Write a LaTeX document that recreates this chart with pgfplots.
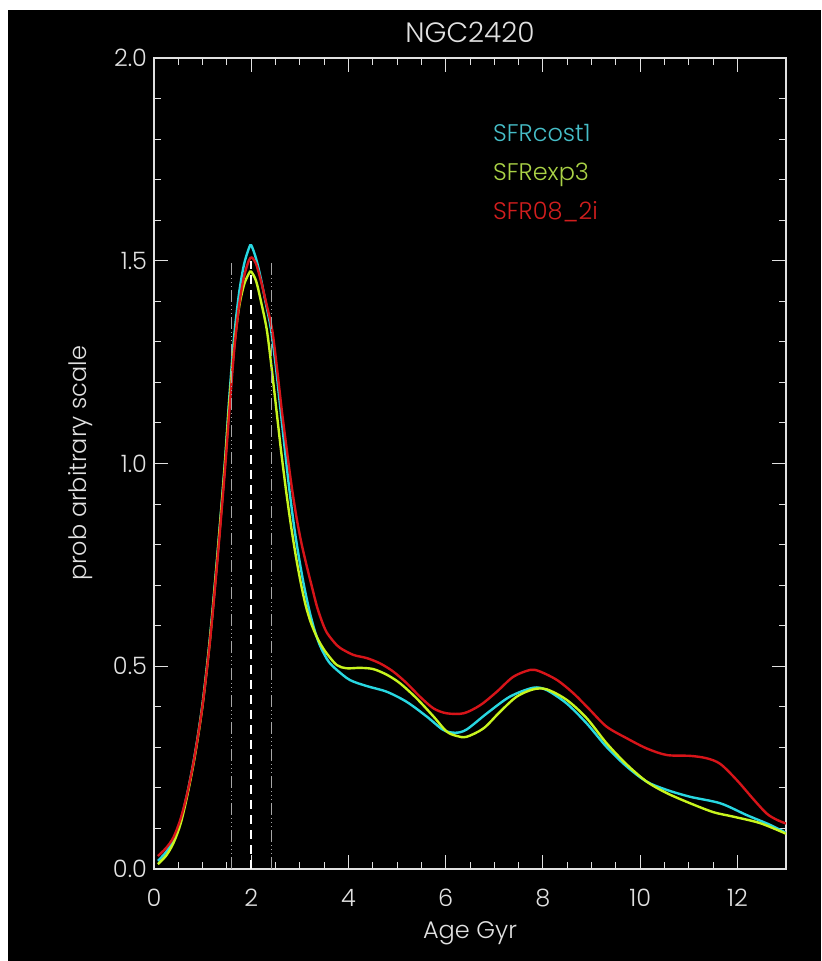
\documentclass[border=0pt]{standalone}
\usepackage{fontspec}
\setmainfont{Poppins Light}
\usepackage{pgfplots}
\usepackage{pgfplotstable}
\pgfplotsset{compat=1.18}

\definecolor{cyancurve}{RGB}{40,215,225}
\definecolor{yelcurve}{RGB}{200,245,30}
\definecolor{redcurve}{RGB}{215,20,25}
\definecolor{cyantext}{RGB}{70,190,200}
\definecolor{yeltext}{RGB}{170,210,70}
\definecolor{redtext}{RGB}{210,30,30}
\definecolor{labelgrey}{RGB}{225,225,225}

% SFRcost1
\pgfplotstableread{
x y
0.08 0.020
0.25 0.042
0.40 0.072
0.55 0.120
0.70 0.195
0.85 0.290
1.00 0.410
1.15 0.570
1.30 0.770
1.45 0.990
1.55 1.165
1.65 1.315
1.75 1.420
1.85 1.490
1.95 1.530
2.00 1.538
2.10 1.505
2.20 1.455
2.30 1.395
2.40 1.335
2.50 1.245
2.60 1.135
2.70 1.025
2.80 0.920
2.90 0.830
3.00 0.755
3.10 0.690
3.20 0.635
3.30 0.590
3.40 0.555
3.50 0.530
3.60 0.510
3.76 0.491
4.03 0.466
4.38 0.451
4.79 0.437
5.20 0.412
5.61 0.376
5.95 0.343
6.20 0.336
6.43 0.344
6.85 0.384
7.32 0.425
7.80 0.447
8.08 0.441
8.49 0.408
8.90 0.359
9.31 0.301
9.73 0.252
10.14 0.215
10.55 0.195
11.03 0.178
11.65 0.162
12.19 0.133
12.67 0.109
13.00 0.089
}\costone

% SFRexp3
\pgfplotstableread{
x y
0.08 0.012
0.25 0.033
0.40 0.064
0.55 0.113
0.70 0.190
0.85 0.285
1.00 0.405
1.15 0.565
1.30 0.765
1.45 0.985
1.55 1.150
1.65 1.290
1.75 1.385
1.85 1.440
1.95 1.468
2.00 1.473
2.10 1.450
2.20 1.400
2.32 1.330
2.42 1.235
2.52 1.130
2.62 1.025
2.72 0.930
2.82 0.845
2.92 0.770
3.02 0.705
3.12 0.650
3.22 0.610
3.32 0.580
3.42 0.556
3.55 0.532
3.76 0.503
3.96 0.495
4.24 0.496
4.51 0.493
4.79 0.479
5.06 0.458
5.40 0.421
5.75 0.376
6.02 0.339
6.23 0.328
6.43 0.326
6.78 0.347
7.12 0.388
7.46 0.425
7.80 0.443
8.08 0.443
8.49 0.417
8.90 0.372
9.31 0.310
9.73 0.257
10.14 0.215
10.55 0.187
11.03 0.162
11.51 0.140
11.92 0.129
12.47 0.113
13.00 0.087
}\expthree

% SFR08_2i
\pgfplotstableread{
x y
0.08 0.032
0.25 0.052
0.40 0.078
0.55 0.125
0.70 0.195
0.85 0.288
1.00 0.405
1.15 0.560
1.30 0.755
1.45 0.970
1.55 1.130
1.65 1.280
1.75 1.390
1.85 1.460
1.95 1.500
2.01 1.508
2.10 1.492
2.20 1.450
2.30 1.400
2.43 1.330
2.53 1.235
2.63 1.130
2.73 1.035
2.83 0.945
2.93 0.868
3.03 0.805
3.14 0.748
3.25 0.695
3.35 0.648
3.45 0.612
3.55 0.584
3.70 0.560
3.83 0.545
4.10 0.528
4.38 0.520
4.65 0.507
4.92 0.487
5.20 0.458
5.47 0.425
5.75 0.396
6.02 0.384
6.37 0.384
6.71 0.404
7.05 0.437
7.39 0.474
7.74 0.491
7.94 0.487
8.29 0.466
8.63 0.433
8.97 0.392
9.31 0.351
9.73 0.322
10.14 0.297
10.55 0.281
11.03 0.279
11.37 0.273
11.65 0.259
11.99 0.219
12.33 0.172
12.60 0.137
12.80 0.122
13.00 0.112
}\sfreight

\begin{document}
\begin{tikzpicture}
% page: 821x961 px at 0.5pt per px
\fill[black] (0pt,0pt) rectangle (410.5pt,480.5pt);
\fill[white] (0pt,475.5pt) rectangle (410.5pt,480.5pt);
\fill[white] (0pt,0pt) rectangle (4pt,480.5pt);
\begin{axis}[
    at={(77pt,46pt)}, anchor=south west,
    scale only axis, width=316pt, height=405.5pt,
    xmin=0, xmax=13, ymin=0, ymax=2,
    xtick={0,2,4,6,8,10,12}, minor x tick num=3,
    ytick={0,0.5,1,1.5,2}, minor y tick num=4,
    major tick length=7pt, minor tick length=3.5pt,
    every tick/.style={labelgrey, line width=0.5pt},
    axis line style={labelgrey, line width=0.8pt},
    /pgf/number format/assume math mode=true,
    yticklabel style={/pgf/number format/.cd, fixed, fixed zerofill, precision=1},
    tick label style={font=\fontsize{12}{14}\selectfont, text=labelgrey},
    xticklabel style={yshift=-6.5pt},
    label style={font=\fontsize{12}{14}\selectfont, text=labelgrey},
    xlabel={Age Gyr},
    xlabel style={at={(axis description cs:0.5,-0.0851)}, anchor=base},
    ylabel={prob arbitrary scale},
    ylabel style={at={(axis description cs:-0.1155,0.5)}, anchor=center},
    title={NGC2420},
    title style={at={(axis description cs:0.5,1.0037)}, anchor=base,
        font=\fontsize{14}{16}\selectfont, text=labelgrey},
    legend image code/.code={},
    legend cell align=left,
    legend style={at={(axis description cs:0.536,0.919)}, anchor=north west,
        draw=none, fill=none, font=\fontsize{12}{14}\selectfont,
        row sep=11pt, inner sep=0pt,
        nodes={inner sep=0pt, text height=8.5pt, text depth=0pt}},
]
\addplot[cyancurve, line width=1.2pt, smooth] table {\costone};
\addlegendentry{\textcolor{cyantext}{SFRcost1}}
\addplot[yelcurve, line width=1.2pt, smooth] table {\expthree};
\addlegendentry{\textcolor{yeltext}{SFRexp3}}
\addplot[redcurve, line width=1.2pt, smooth] table {\sfreight};
\addlegendentry{\textcolor{redtext}{SFR08\_2i}}

\addplot[forget plot, gray!70, line width=0.6pt,
    dash pattern=on 6pt off 1.5pt on 0.5pt off 1.5pt on 0.5pt off 1.5pt on 0.5pt off 1.5pt]
    coordinates {(1.6,0) (1.6,1.5)};
\addplot[forget plot, gray!70, line width=0.6pt,
    dash pattern=on 6pt off 1.5pt on 0.5pt off 1.5pt on 0.5pt off 1.5pt on 0.5pt off 1.5pt]
    coordinates {(2.41,0) (2.41,1.5)};
\addplot[forget plot, white, line width=1pt, dash pattern=on 4.5pt off 3pt]
    coordinates {(2,0) (2,1.5)};
\end{axis}
\end{tikzpicture}
\end{document}
